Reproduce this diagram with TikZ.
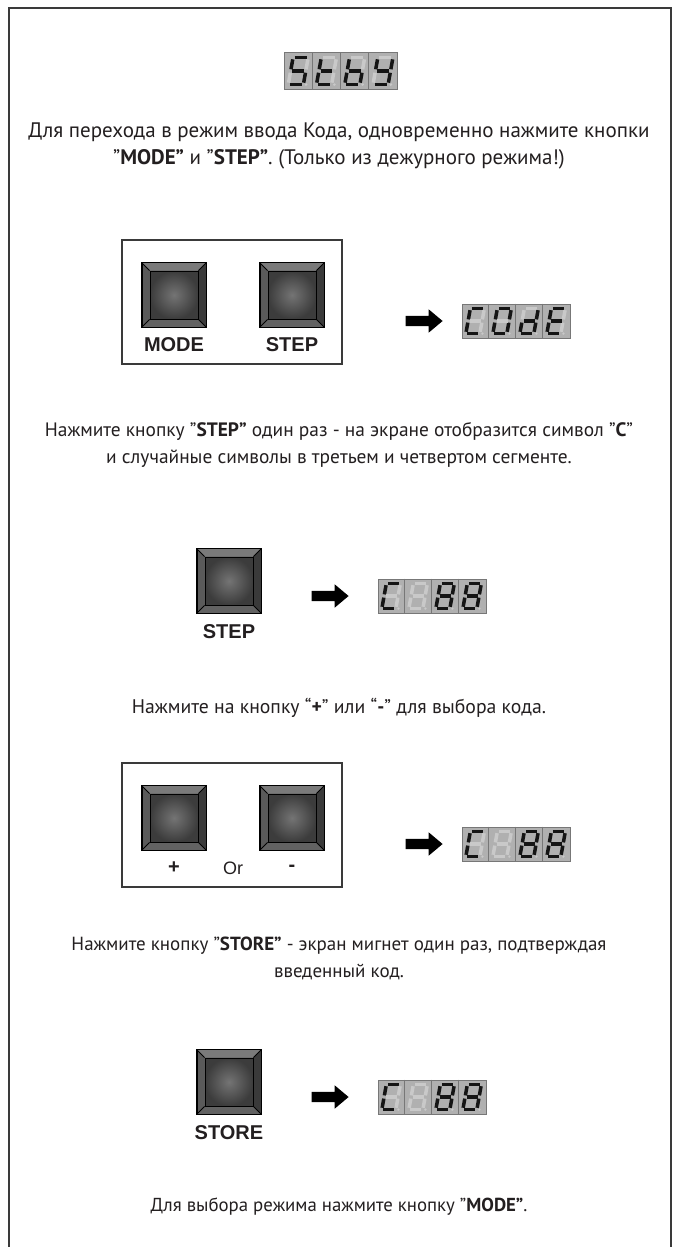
\documentclass[tikz,border=0pt]{standalone}
\usepackage{fontspec}
\setmainfont{PT Sans}
\newfontfamily\keyfont{Liberation Sans}
\usetikzlibrary{calc,positioning,shapes.arrows}
\definecolor{cText}{HTML}{231F20}
\definecolor{cFrame}{HTML}{3A3A3A}
\definecolor{cLcd}{HTML}{B0B0B0}
\definecolor{cLcdLine}{HTML}{777777}
\definecolor{cSegOn}{HTML}{151515}
\definecolor{cSegOff}{HTML}{C9C9C9}
\definecolor{cBevTop}{HTML}{7A7A7A}
\definecolor{cBevLeft}{HTML}{5A5A5A}
\definecolor{cBevRight}{HTML}{3A3A3A}
\definecolor{cBevBot}{HTML}{626262}
\definecolor{cFaceIn}{HTML}{747474}
\definecolor{cFaceOut}{HTML}{3C3C3C}
\tikzset{
  txt/.style     = {font=\fontsize{19.4}{27}\selectfont, text=cText, align=center, inner sep=0pt},
  keylab/.style  = {font=\keyfont\bfseries\fontsize{20}{22}\selectfont, text=cText, inner sep=0pt},
  orlab/.style   = {font=\keyfont\fontsize{18}{20}\selectfont, text=cText, inner sep=0pt},
  panel/.style   = {rectangle, draw=cFrame, line width=1.2pt, minimum width=220, minimum height=124, inner sep=0pt},
  keybody/.style = {rectangle, draw=black, line width=1pt, minimum size=64, inner sep=0pt},
  keyface/.style = {rectangle, draw=black, line width=0.8pt, minimum size=48, inner sep=0pt,
                    inner color=cFaceIn, outer color=cFaceOut},
  lcd/.style     = {rectangle, draw=cLcdLine, line width=0.8pt, fill=cLcd, inner sep=0pt},
  lcdline/.style = {draw=cLcdLine, line width=0.8pt},
  seg/.style     = {line width=3.5pt, line cap=butt},
  pointer/.style = {single arrow, fill=black, draw=none, inner xsep=0pt, inner ysep=5pt,
                    minimum height=37, single arrow head extend=6.5, single arrow tip angle=80},
}
\newcommand{\bev}{8}
\newcommand{\lcdw}{27}
\newcommand{\lcdh}{34}
\newcommand{\lcdk}{1}
% one push button, #1 = name, #2 = centre
\newcommand{\keycap}[2]{%
  \node[keybody, fill=cBevLeft] (#1) at (#2) {};
  \fill[cBevTop] (#1.north west) -- (#1.north east) -- ($(#1.north east)+(-\bev,\bev)$) -- ($(#1.north west)+(\bev,\bev)$) -- cycle;
  \fill[cBevRight] (#1.north east) -- (#1.south east) -- ($(#1.south east)+(-\bev,-\bev)$) -- ($(#1.north east)+(-\bev,\bev)$) -- cycle;
  \fill[cBevBot] (#1.south west) -- (#1.south east) -- ($(#1.south east)+(-\bev,-\bev)$) -- ($(#1.south west)+(\bev,-\bev)$) -- cycle;
  \draw[black, line width=1pt] (#1.north west) rectangle (#1.south east);
  \node[keyface] (#1f) at (#1) {};
  \foreach \cn in {north west,north east,south west,south east}
    \draw[black, line width=0.8pt] (#1.\cn) -- (#1f.\cn);
}
% one seven-segment digit, #1 = centre, #2 = flags a,b,c,d,e,f,g
\newcommand{\lcdchar}[2]{%
  \begin{scope}[shift={(#1)}, xslant=0.18, scale=\lcdk]
    \foreach \on [count=\k] in {#2} {
      \ifnum\on=1 \def\segcol{cSegOn}\else\def\segcol{cSegOff}\fi
      \ifcase\k\or\def\segpath{(-5.5,-12.3)--(5.5,-12.3)}%
      \or\def\segpath{(7,-10.8)--(7,-1.6)}%
      \or\def\segpath{(7,1.6)--(7,10.8)}%
      \or\def\segpath{(-5.5,12.3)--(5.5,12.3)}%
      \or\def\segpath{(-7,1.6)--(-7,10.8)}%
      \or\def\segpath{(-7,-10.8)--(-7,-1.6)}%
      \or\def\segpath{(-5.5,0)--(5.5,0)}\fi
      \draw[seg, draw=\segcol] \segpath;
    }
    \fill[cSegOff] (9.6,12.6) circle (1.3);
  \end{scope}}
% four-digit display, #1 = name, #2 = centre, #3-#6 = digits
\newcommand{\lcdpanel}[6]{%
  \node[lcd, minimum width=4*\lcdw, minimum height=\lcdh] (#1) at (#2) {};
  \foreach \c in {1,2,3}
    \draw[lcdline] ($(#1.north west)+(\lcdw*\c,0)$) -- ($(#1.south west)+(\lcdw*\c,0)$);
  \lcdchar{$(#1.west)+(0.5*\lcdw,0)$}{#3}
  \lcdchar{$(#1.west)+(1.5*\lcdw,0)$}{#4}
  \lcdchar{$(#1.west)+(2.5*\lcdw,0)$}{#5}
  \lcdchar{$(#1.west)+(3.5*\lcdw,0)$}{#6}
}
\begin{document}
\begin{tikzpicture}[x=1pt,y=-1pt]
  \useasboundingbox (0,0) rectangle (678,1247);
  \fill[white] (0,0) rectangle (678,1247);
  \draw[cFrame, line width=1.3pt] (9,1247) -- (9,8) -- (671,8) -- (671,1247);

  % standby
  {\renewcommand{\lcdw}{28.25}\renewcommand{\lcdh}{37}\renewcommand{\lcdk}{1.08}
   \lcdpanel{lStby}{341,71}{1,0,1,1,0,1,1}{0,0,0,1,1,1,1}{0,0,1,1,1,1,1}{0,1,1,1,0,1,1}}
  \node[txt, font=\fontsize{21}{27}\selectfont] (t1) at (339,146) {Для перехода в режим ввода Кода, одновременно нажмите кнопки\\
    ”\textbf{MODE”} и ”\textbf{STEP”}. (Только из дежурного режима!)};

  % MODE + STEP
  \node[panel] (panA) at (232,302) {};
  \keycap{kMode}{174,295}
  \keycap{kStep}{292,295}
  \node[keylab] (lbMode) at (174,345) {MODE};
  \node[keylab] (lbStep) at (292,345) {STEP};
  \node[pointer] (p1) at (421,321) {};
  \lcdpanel{lCode}{516,321}{1,0,0,1,1,1,0}{1,1,1,1,1,1,0}{0,1,1,1,1,0,1}{1,0,0,1,1,1,1}

  \node[txt] (t2) at (339,445) {Нажмите кнопку ”\textbf{STEP”} один раз - на экране отобразится символ ”\textbf{C}”\\
    и случайные символы в третьем и четвертом сегменте.};

  % STEP
  \keycap{kStep2}{229,581}
  \node[keylab] (lbStep2) at (229,632) {STEP};
  \node[pointer] (p2) at (327,596) {};
  \lcdpanel{lStep}{432,596}{1,0,0,1,1,1,0}{0,0,0,0,0,0,0}{1,1,1,1,1,1,1}{1,1,1,1,1,1,1}

  \node[txt, font=\fontsize{19.7}{27}\selectfont] (t3) at (339,708) {Нажмите на кнопку “\textbf{+}” или “\textbf{-}” для выбора кода.};

  % + or -
  \node[panel] (panB) at (232,825) {};
  \keycap{kPlus}{174,818}
  \keycap{kMinus}{292,818}
  \node[keylab] (lbPlus) at (174,868) {+};
  \node[orlab] (lbOr) at (233,868) {Or};
  \node[keylab] (lbMinus) at (292,868) {-};
  \node[pointer] (p3) at (421,844) {};
  \lcdpanel{lSel}{516,844}{1,0,0,1,1,1,0}{0,0,0,0,0,0,0}{1,1,1,1,1,1,1}{1,1,1,1,1,1,1}

  \node[txt, font=\fontsize{19}{27}\selectfont] (t4) at (339,958) {Нажмите кнопку ”\textbf{STORE”} - экран мигнет один раз, подтверждая\\
    введенный код.};

  % STORE
  \keycap{kStore}{229,1082}
  \node[keylab] (lbStore) at (229,1133) {STORE};
  \node[pointer] (p4) at (327,1097) {};
  \lcdpanel{lStore}{432,1097}{1,0,0,1,1,1,0}{0,0,0,0,0,0,0}{1,1,1,1,1,1,1}{1,1,1,1,1,1,1}

  \node[txt, font=\fontsize{18.8}{27}\selectfont] (t5) at (339,1207) {Для выбора режима нажмите кнопку ”\textbf{MODE”}.};
\end{tikzpicture}
\end{document}
